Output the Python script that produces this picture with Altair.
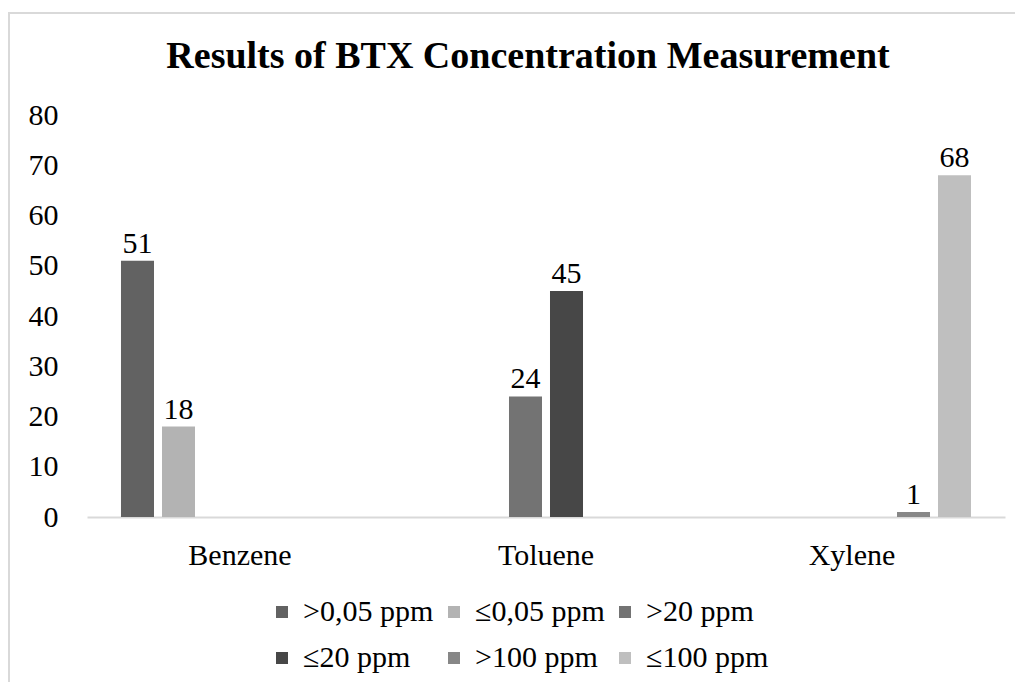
import altair as alt
import pandas as pd

categories = ["Benzene", "Toluene", "Xylene"]
series = [">0,05 ppm", "≤0,05 ppm", ">20 ppm", "≤20 ppm", ">100 ppm", "≤100 ppm"]
colors = ["#626262", "#b3b3b3", "#737373", "#474747", "#878787", "#bfbfbf"]
bar_category = ["Benzene", "Benzene", "Toluene", "Toluene", "Xylene", "Xylene"]
bar_values = [51, 18, 24, 45, 1, 68]
y_ticks = [0, 10, 20, 30, 40, 50, 60, 70, 80]

FONT = "Liberation Serif"
FS = 30

df = pd.DataFrame({"compound": bar_category, "level": series, "value": bar_values})

x_enc = alt.X(
    "compound:N",
    sort=categories,
    scale=alt.Scale(domain=categories, paddingInner=0.196, paddingOuter=0.098),
    axis=alt.Axis(
        title=None, labelAngle=0, ticks=False, tickSize=0, labelPadding=23,
        domainColor="#d9d9d9", domainWidth=2, labelFont=FONT, labelFontSize=FS,
        labelColor="black", grid=False,
    ),
)
xoff_enc = alt.XOffset(
    "level:N",
    scale=alt.Scale(domain=series, paddingInner=0.195, paddingOuter=0.0976),
)
y_enc = alt.Y(
    "value:Q",
    scale=alt.Scale(domain=[0, 80], nice=False),
    axis=alt.Axis(
        title=None, values=y_ticks, domain=False, ticks=False, tickSize=0,
        labelPadding=29, grid=False, labelFont=FONT, labelFontSize=FS,
        labelColor="black",
    ),
)

frame = alt.Chart(pd.DataFrame({"f": [0]})).mark_rect(
    fillOpacity=0, stroke="#d9d9d9", strokeWidth=2
).encode(
    x=alt.value(-78), x2=alt.value(1200), y=alt.value(-102), y2=alt.value(900)
)

bars = alt.Chart(df).mark_bar().encode(
    x=x_enc,
    xOffset=xoff_enc,
    y=y_enc,
    color=alt.Color(
        "level:N",
        scale=alt.Scale(domain=series, range=colors),
        legend=alt.Legend(
            title=None, orient="none", legendX=180, legendY=482,
            direction="horizontal", columns=3, symbolType="square",
            symbolSize=144, symbolStrokeWidth=0, labelFont=FONT,
            labelFontSize=FS, labelColor="black", labelOffset=6,
            columnPadding=5, rowPadding=16, padding=0,
        ),
    ),
)

labels = alt.Chart(df).mark_text(
    baseline="alphabetic", dy=-8, font=FONT, fontSize=FS, color="black"
).encode(
    x=x_enc, xOffset=xoff_enc, y=y_enc, text=alt.Text("value:Q")
)

chart = alt.layer(frame, bars, labels).properties(
    width=918,
    height=402,
    autosize=alt.AutoSizeParams(type="none"),
    padding={"left": 79, "top": 107, "right": 10, "bottom": 165},
    title=alt.TitleParams(
        "Results of BTX Concentration Measurement",
        font=FONT, fontSize=38, fontWeight="bold", color="black",
        anchor="middle", dx=-18, dy=94, offset=0, baseline="alphabetic",
    ),
).configure_view(strokeWidth=0)

chart.save("out.html", embed_options={"renderer": "svg", "actions": False})
